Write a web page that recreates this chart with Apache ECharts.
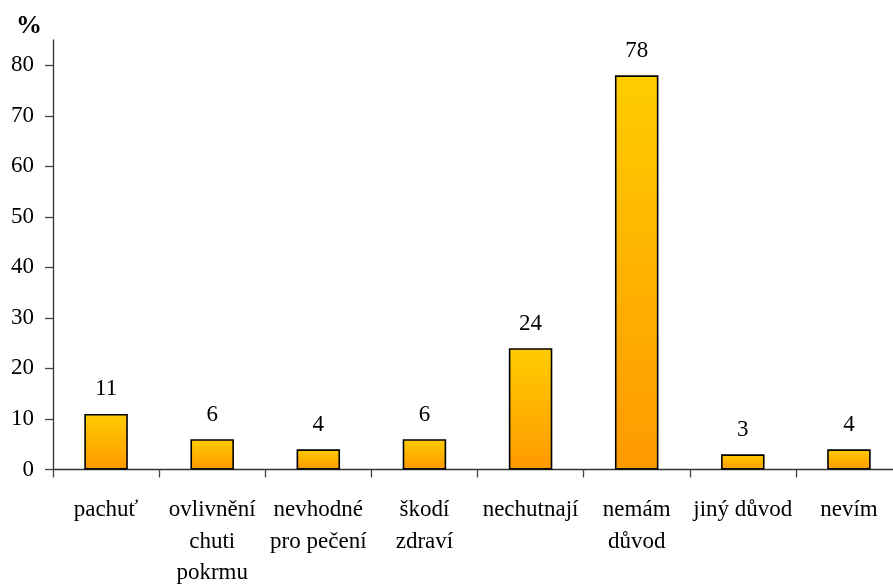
<!DOCTYPE html>
<html>
<head>
<meta charset="utf-8">
<script src="https://cdn.jsdelivr.net/npm/echarts@6/dist/echarts.min.js"></script>
<style>
  html, body { margin: 0; padding: 0; background: #fff; }
  #chart { width: 893px; height: 585px; }
</style>
</head>
<body>
<div id="chart"></div>
<script>
// Reasons (Czech survey answers) and share of respondents in %
const categories = [
  'pachuť',
  'ovlivnění\nchuti\npokrmu',
  'nevhodné\npro pečení',
  'škodí\nzdraví',
  'nechutnají',
  'nemám\ndůvod',
  'jiný důvod',
  'nevím'
];
const values = [11, 6, 4, 6, 24, 78, 3, 4];
const yTicks = [0, 10, 20, 30, 40, 50, 60, 70, 80];

const font = '"Liberation Serif", "Times New Roman", serif';
const chart = echarts.init(document.getElementById('chart'), null, { renderer: 'canvas' });

chart.setOption({
  animation: false,
  backgroundColor: '#ffffff',
  title: {
    text: '%',
    left: 11,
    top: 8,
    textStyle: { fontFamily: font, fontSize: 26, fontWeight: 'bold', color: '#000' }
  },
  grid: {
    left: 53, top: 40, width: 849, bottom: 115.5,
    containLabel: false,
    outerBoundsMode: 'none'
  },
  xAxis: {
    type: 'category',
    data: categories,
    boundaryGap: true,
    axisLine: { lineStyle: { color: '#333', width: 1.3 } },
    axisTick: { show: true, length: 8, lineStyle: { color: '#444', width: 1.3 } },
    axisLabel: {
      interval: 0,
      margin: 25,
      fontFamily: font,
      fontSize: 23,
      lineHeight: 31.5,
      color: '#000'
    }
  },
  yAxis: {
    type: 'value',
    min: 0,
    max: 85,
    interval: 10,
    splitLine: { show: false },
    axisLine: { show: true, lineStyle: { color: '#333', width: 1.3 } },
    axisTick: { show: true, length: 8, customValues: yTicks, lineStyle: { color: '#444', width: 1.3 } },
    axisLabel: {
      customValues: yTicks,
      margin: 19,
      fontFamily: font,
      fontSize: 23,
      color: '#000'
    }
  },
  series: [{
    type: 'bar',
    data: values,
    barWidth: '41%',
    itemStyle: {
      color: new echarts.graphic.LinearGradient(0, 0, 0, 1, [
        { offset: 0, color: '#FFCC00' },
        { offset: 1, color: '#FF9900' }
      ]),
      borderColor: '#000',
      borderWidth: 1.6
    },
    label: {
      show: true,
      position: 'top',
      distance: 13,
      fontFamily: font,
      fontSize: 23,
      color: '#000'
    }
  }]
});
</script>
</body>
</html>
